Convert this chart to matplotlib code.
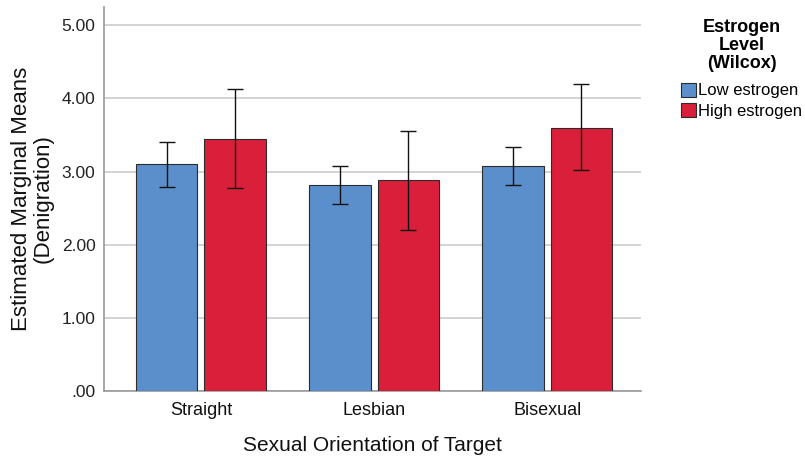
import numpy as np
import matplotlib
matplotlib.use("Agg")
import matplotlib.pyplot as plt

plt.rcParams['font.family'] = ['Liberation Sans', 'DejaVu Sans']

categories = ['Straight', 'Lesbian', 'Bisexual']
low_means = [3.10, 2.81, 3.07]
low_upper = [3.40, 3.08, 3.33]
low_lower = [2.79, 2.55, 2.81]
high_means = [3.45, 2.88, 3.60]
high_upper = [4.13, 3.56, 4.19]
high_lower = [2.78, 2.20, 3.02]

blue = '#5b8fcb'
red = '#d91f3a'

fig = plt.figure(figsize=(8.05, 4.58), dpi=100)
ax = fig.add_axes([0.129, 0.146, 0.667, 0.839])

x = np.arange(len(categories))
w = 0.355
off = w / 2 + 0.02

low_err = [np.array(low_means) - np.array(low_lower), np.array(low_upper) - np.array(low_means)]
high_err = [np.array(high_means) - np.array(high_lower), np.array(high_upper) - np.array(high_means)]

ax.bar(x - off, low_means, w, color=blue, edgecolor='#2b2b2b', linewidth=0.8,
       label='Low estrogen', zorder=3)
ax.bar(x + off, high_means, w, color=red, edgecolor='#2b2b2b', linewidth=0.8,
       label='High estrogen', zorder=3)
ax.errorbar(x - off, low_means, yerr=low_err, fmt='none', ecolor='#111111',
            elinewidth=1.0, capsize=6, capthick=1.0, zorder=4)
ax.errorbar(x + off, high_means, yerr=high_err, fmt='none', ecolor='#111111',
            elinewidth=1.0, capsize=6, capthick=1.0, zorder=4)

ax.set_xlim(-0.56, 2.54)
ax.set_ylim(0, 5.25)
ax.set_yticks([0, 1, 2, 3, 4, 5])
ax.set_yticklabels(['.00', '1.00', '2.00', '3.00', '4.00', '5.00'], fontsize=12.5, color='#222222')
ax.set_xticks(x)
ax.set_xticklabels(categories, fontsize=13, color='#111111')
ax.tick_params(axis='both', length=0, pad=6)
ax.tick_params(axis='x', pad=8)
ax.yaxis.grid(True, color='#cccccc', linewidth=1.2, zorder=0)
ax.set_axisbelow(True)

for s in ['top', 'right']:
    ax.spines[s].set_visible(False)
ax.spines['left'].set_color('#999999')
ax.spines['bottom'].set_color('#999999')
ax.spines['left'].set_linewidth(1.2)
ax.spines['bottom'].set_linewidth(1.2)

ax.set_xlabel('Sexual Orientation of Target', fontsize=15, labelpad=12, color='#111111')
ax.set_ylabel('Estimated Marginal Means\n(Denigration)', fontsize=16, labelpad=6,
              color='#111111', linespacing=1.0)

leg = ax.legend(title='Estrogen\nLevel\n(Wilcox)', loc='upper left', bbox_to_anchor=(1.062, 0.985),
                frameon=False, fontsize=12, handlelength=0.9, handleheight=0.9,
                handletextpad=0.15, borderaxespad=0.0, labelspacing=0.3)
leg.get_title().set_fontweight('bold')
leg.get_title().set_fontsize(13)
leg.get_title().set_multialignment('center')
leg.get_title().set_linespacing(1.05)
leg._legend_box.align = 'center'
leg._legend_box.sep = 8

fig.savefig('out.png', dpi=100)
